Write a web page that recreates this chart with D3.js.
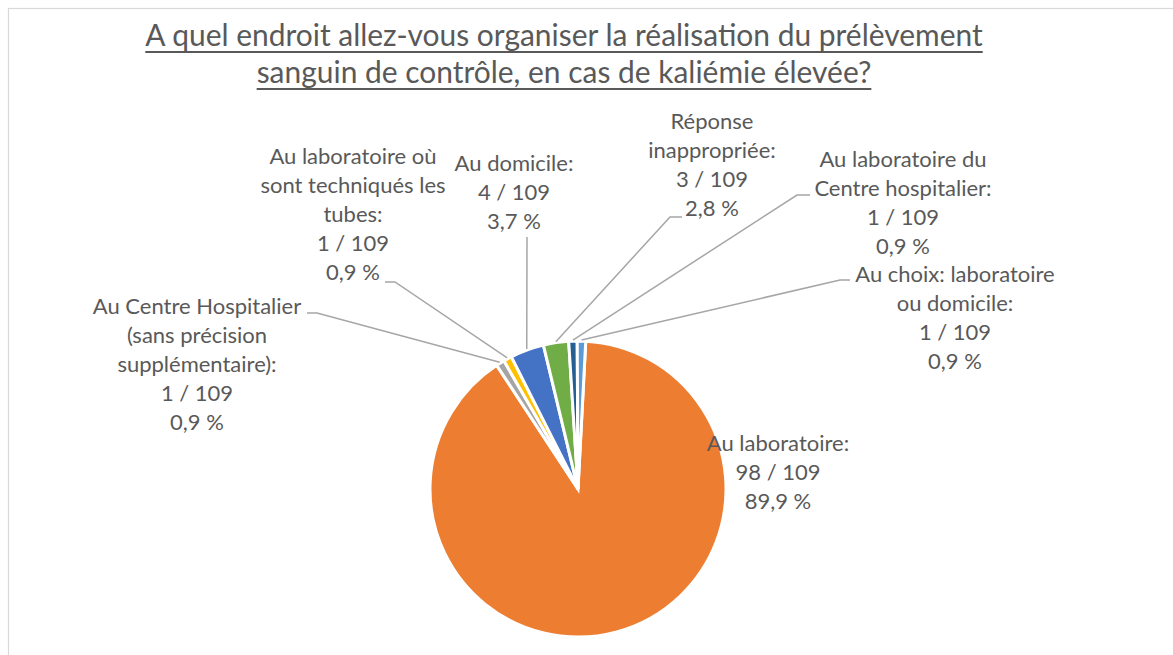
<!DOCTYPE html>
<html>
<head>
  <meta charset="utf-8">
  <script src="https://cdnjs.cloudflare.com/ajax/libs/d3/7.8.5/d3.min.js"></script>
  <title>kaliémie</title>
  <style>
    body { margin: 0; background: #fff; }
    text { font-family: Lato, "Open Sans", sans-serif; fill: #595959; }
  </style>
</head>
<body>
<script>
// donnees (ordre Excel, sens horaire depuis le haut)
var categories = [
  "Au laboratoire",
  "Au Centre Hospitalier\n(sans précision\nsupplémentaire)",
  "Au laboratoire où\nsont techniqués les\ntubes",
  "Au domicile",
  "Réponse\ninappropriée",
  "Au laboratoire du\nCentre hospitalier",
  "Au choix: laboratoire\nou domicile"
];
var valeurs = [98, 1, 1, 4, 3, 1, 1];
var total = 109;
var couleurs = ["#ED7D31", "#A5A5A5", "#FFC000", "#4472C4", "#70AD47", "#255E91", "#5B9BD5"];
var titre = [
  "A quel endroit allez-vous organiser la réalisation du prélèvement",
  "sanguin de contrôle, en cas de kaliémie élevée?"
];

// placement des etiquettes (x centre, y 1re ligne, point de depart du trait)
var etiquettes = [
  {x: 778, y: 451, trait: null},
  {x: 197, y: 314, trait: [[307, 313], [317, 313]]},
  {x: 353, y: 164, trait: [[385, 282], [395, 282]]},
  {x: 514, y: 171, trait: [[527, 237]]},
  {x: 712, y: 129, trait: [[682, 217], [670, 217]]},
  {x: 903, y: 167, trait: [[810, 195], [797, 195]]},
  {x: 955, y: 282, trait: [[850, 280], [840, 280]]}
];

var w = 1173, h = 655;
var cx = 578, cy = 489, r = 148;
var interligne = 29;

var svg = d3.select("body").append("svg")
  .attr("width", w)
  .attr("height", h);

// cadre du graphique
svg.append("rect")
  .attr("x", 8.5).attr("y", 8.5)
  .attr("width", w).attr("height", h)
  .attr("fill", "none")
  .attr("stroke", "#d9d9d9")
  .attr("stroke-width", 1.2);

// titre souligne
var tailleTitre = 28;
var t1 = svg.append("text").attr("font-size", tailleTitre).text(titre[0]);
var lg = t1.node().getComputedTextLength();
tailleTitre = tailleTitre * 838 / lg;
t1.remove();

var titres = svg.selectAll(".titre").data(titre).enter().append("text")
  .attr("class", "titre")
  .attr("font-size", tailleTitre)
  .attr("text-anchor", "middle")
  .attr("x", 564)
  .attr("y", function(d, i) { return 46 + i * 37; })
  .text(function(d) { return d; });

titres.each(function(d, i) {
  var l = this.getComputedTextLength();
  svg.append("line")
    .attr("x1", 564 - l / 2).attr("x2", 564 + l / 2)
    .attr("y1", 52 + i * 37).attr("y2", 52 + i * 37)
    .attr("stroke", "#595959")
    .attr("stroke-width", 2);
});

// camembert
var angle0 = 3 * Math.PI / 180;
var pie = d3.pie().sort(null)
  .startAngle(angle0)
  .endAngle(angle0 + 2 * Math.PI);
var arcs = pie(valeurs);
var arc = d3.arc().innerRadius(0).outerRadius(r);

var g = svg.append("g").attr("transform", "translate(" + cx + "," + cy + ")");

g.selectAll("path").data(arcs).enter().append("path")
  .attr("d", arc)
  .attr("fill", function(d, i) { return couleurs[i]; })
  .attr("stroke", "#fff")
  .attr("stroke-width", 3);

// traits de rappel
arcs.forEach(function(d, i) {
  var e = etiquettes[i];
  if (!e.trait) return;
  var a = (d.startAngle + d.endAngle) / 2;
  var fin = [cx + (r + 1) * Math.sin(a), cy - (r + 1) * Math.cos(a)];
  var pts = e.trait.concat([fin]);
  svg.append("path")
    .attr("d", d3.line()(pts))
    .attr("fill", "none")
    .attr("stroke", "#a6a6a6")
    .attr("stroke-width", 1.5);
});

// etiquettes
var pct = d3.format(".1f");
arcs.forEach(function(d, i) {
  var e = etiquettes[i];
  var lignes = (categories[i] + ":").split("\n");
  lignes.push(valeurs[i] + " / " + total);
  lignes.push(pct(valeurs[i] / total * 100).replace(".", ",") + " %");
  var t = svg.append("text")
    .attr("font-size", 22)
    .attr("text-anchor", "middle");
  t.selectAll("tspan").data(lignes).enter().append("tspan")
    .attr("x", e.x)
    .attr("y", function(l, j) { return e.y + j * interligne; })
    .text(function(l) { return l; });
});
</script>
</body>
</html>
